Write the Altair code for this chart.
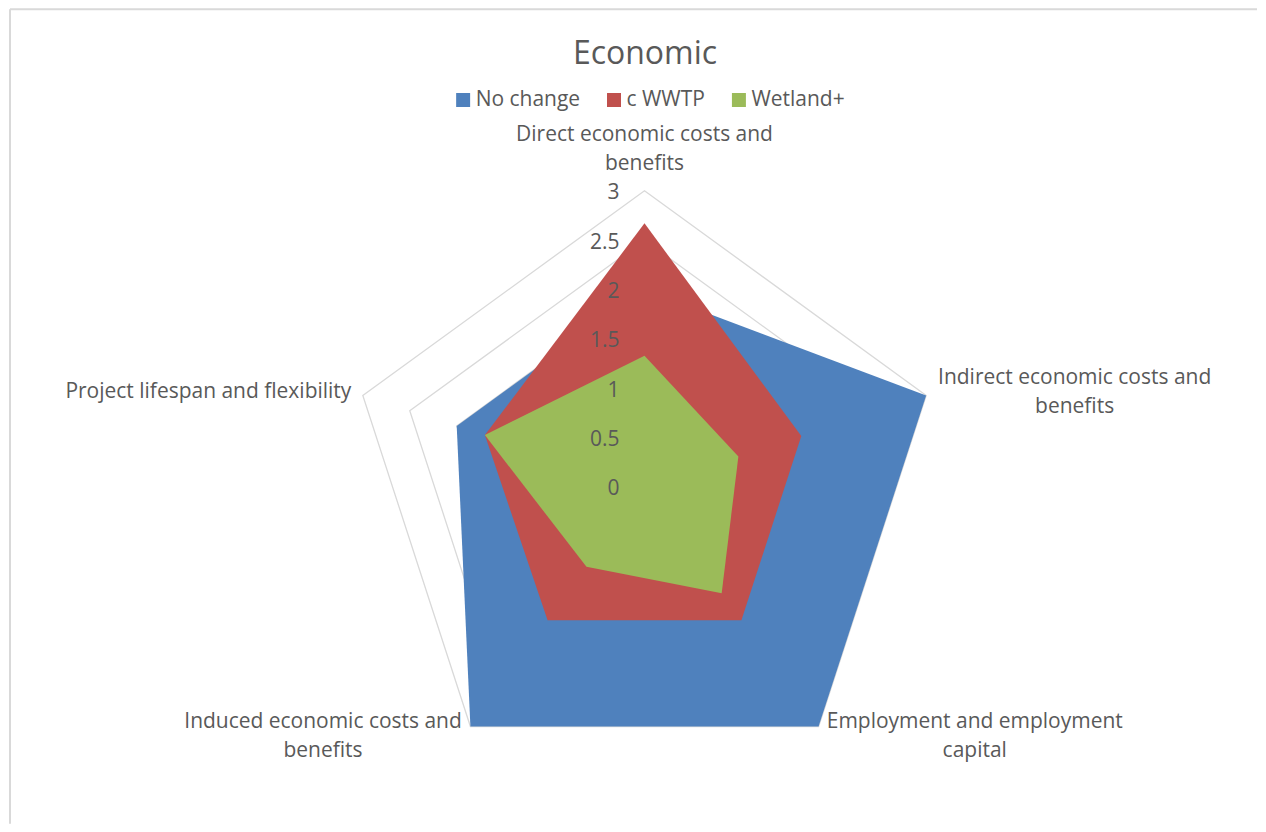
import altair as alt
import pandas as pd

# ---------------- data ----------------
categories = [
    "Direct economic costs and\nbenefits",
    "Indirect economic costs and\nbenefits",
    "Employment and employment\ncapital",
    "Induced economic costs and\nbenefits",
    "Project lifespan and flexibility",
]
series = ["No change", "c WWTP", "Wetland+"]
no_change = [2, 3, 3, 3, 2]
c_wwtp = [2.67, 1.67, 1.67, 1.67, 1.7]
wetland = [1.33, 1, 1.33, 1, 1.7]
ticks = [0, 0.5, 1, 1.5, 2, 2.5, 3]
chart_title = "Economic"

# ---------------- style ----------------
colors = ["#4F81BD", "#C0504D", "#9BBB59"]
TEXT = "#595959"
GRID = "#D9D9D9"
FONT = "Open Sans"
W, H = 1250, 816
PX_PER_UNIT = 98.8
CX, CY = 637, 479  # centre of the radar in plot pixels
XMIN, XMAX = -CX / PX_PER_UNIT, (W - CX) / PX_PER_UNIT
YMIN, YMAX = -(H - CY) / PX_PER_UNIT, CY / PX_PER_UNIT

# label placement (align, dx, dy) per category index
label_style = {
    0: ("center", 0, -56),
    1: ("center", 148.6, -17),
    2: ("center", 156.3, -4.3),
    3: ("center", -147.5, -4.3),
    4: ("right", -11.5, -3),
}

# ---------------- tables ----------------
rows = []
for s, vals in zip(series, [no_change, c_wwtp, wetland]):
    for i, (c, v) in enumerate(zip(categories, vals)):
        rows.append({"series": s, "idx": i, "cat": c, "value": v})
series_df = pd.DataFrame(rows)

grid_df = pd.DataFrame(
    [{"level": t, "idx": i, "value": t} for t in ticks[1:] for i in range(len(categories))]
)
tick_df = pd.DataFrame({"value": ticks, "idx": 0, "label": [f"{t:g}" for t in ticks]})
cat_df = pd.DataFrame({"idx": list(range(len(categories))), "cat": categories, "value": ticks[-1]})
one_df = pd.DataFrame({"a": [0]})

N = len(categories)
PX = f"datum.value * sin(2 * PI * datum.idx / {N})"
PY = f"datum.value * cos(2 * PI * datum.idx / {N})"

X = alt.X("px:Q", scale=alt.Scale(domain=[XMIN, XMAX], nice=False, zero=False), axis=None)
Y = alt.Y("py:Q", scale=alt.Scale(domain=[YMIN, YMAX], nice=False, zero=False), axis=None)

border_top = alt.Chart(one_df).mark_rule(color=GRID, strokeWidth=2).encode(
    x=alt.value(2), x2=alt.value(W), y=alt.value(1)
)
border_left = alt.Chart(one_df).mark_rule(color=GRID, strokeWidth=2).encode(
    x=alt.value(2), y=alt.value(1), y2=alt.value(H)
)

grid = (
    alt.Chart(grid_df)
    .transform_calculate(px=PX, py=PY)
    .mark_line(interpolate="linear-closed", stroke=GRID, strokeWidth=1.3)
    .encode(X, Y, detail="level:N", order="idx:Q")
)

color = alt.Color(
    "series:N",
    scale=alt.Scale(domain=series, range=colors),
    legend=alt.Legend(
        title=None,
        orient="none",
        legendX=445,
        legendY=81,
        direction="horizontal",
        symbolType="square",
        symbolSize=196,
        symbolStrokeWidth=0,
        labelFont=FONT,
        labelFontSize=21,
        labelColor=TEXT,
        labelOffset=2,
        columnPadding=23,
        padding=0,
    ),
)

series_layers = [
    alt.Chart(series_df)
    .transform_filter(alt.datum.series == s)
    .transform_calculate(px=PX, py=PY)
    .mark_line(interpolate="linear-closed", filled=True, strokeWidth=0)
    .encode(X, Y, order="idx:Q", color=color)
    for s in series
]

tick_layer = (
    alt.Chart(tick_df)
    .transform_calculate(px=PX, py=PY)
    .mark_text(align="right", baseline="middle", dx=-25, dy=2.5, font=FONT, fontSize=21, color=TEXT)
    .encode(X, Y, text="label:N")
)

cat_layers = []
for i in range(N):
    al, dx, dy = label_style[i]
    cat_layers.append(
        alt.Chart(cat_df)
        .transform_filter(alt.datum.idx == i)
        .transform_calculate(px=PX, py=PY)
        .mark_text(
            align=al, baseline="middle", dx=dx, dy=dy, lineBreak="\n", lineHeight=29,
            font=FONT, fontSize=21, color=TEXT,
        )
        .encode(X, Y, text="cat:N")
    )

chart = (
    alt.layer(border_top, border_left, grid, *series_layers, tick_layer, *cat_layers)
    .properties(
        width=W,
        height=H,
        padding=0,
        background="white",
        title=alt.TitleParams(
            text=chart_title, font=FONT, fontSize=32, fontWeight="normal", color=TEXT,
            anchor="middle", dx=12.5, offset=-88, baseline="alphabetic",
        ),
    )
    .configure_view(strokeWidth=0)
)

chart.save("out.html", embed_options={"renderer": "svg", "actions": False})
